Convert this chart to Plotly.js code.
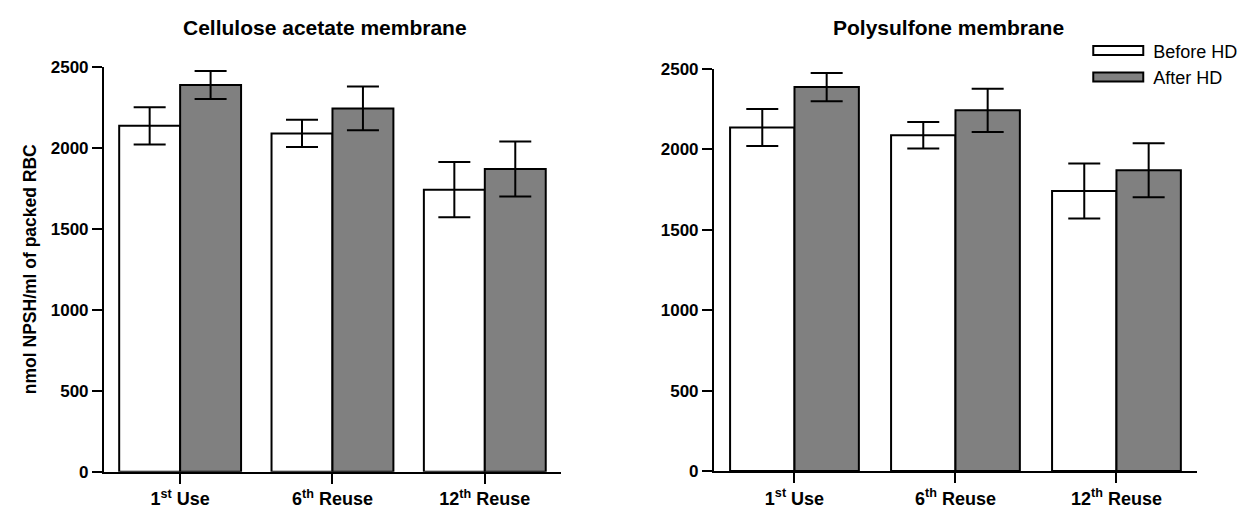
<!DOCTYPE html>
<html>
<head>
<meta charset="utf-8">
<script src="https://cdn.plot.ly/plotly-3.0.1.min.js"></script>
<style>html,body{margin:0;padding:0;background:#fff;}#chart{width:1248px;height:506px;}</style>
</head>
<body>
<div id="chart"></div>
<script>
// ---- data ----
var categories = ['1<sup>st</sup> Use', '6<sup>th</sup> Reuse', '12<sup>th</sup> Reuse'];
var seriesNames = ['Before HD', 'After HD'];

// Cellulose acetate membrane
var caBefore = [2135, 2088, 1741];
var caBeforeErr = [115, 84, 171];
var caAfter = [2387, 2242, 1868];
var caAfterErr = [87, 135, 170];

// Polysulfone membrane
var psBefore = [2137, 2088, 1741];
var psBeforeErr = [115, 83, 171];
var psAfter = [2388, 2243, 1870];
var psAfterErr = [88, 134, 168];

var yTickVals = [0, 500, 1000, 1500, 2000, 2500];
var panelTitles = ['Cellulose acetate membrane', 'Polysulfone membrane'];
var yTitle = 'nmol NPSH/ml of packed RBC';

// ---- styles ----
var FONT = '"Liberation Sans", Arial, Helvetica, sans-serif';
var fills = ['#ffffff', '#808080'];

function barTrace(name, vals, errs, idx, xa, ya, showLeg) {
  return {
    type: 'bar', name: name, x: categories, y: vals,
    xaxis: xa, yaxis: ya, showlegend: showLeg, legendgroup: name,
    marker: {color: fills[idx], line: {color: '#000', width: 2}},
    error_y: {type: 'data', array: errs, visible: true, color: '#000', thickness: 2, width: 16},
    hoverinfo: 'x+y'
  };
}

var data = [
  barTrace(seriesNames[0], caBefore, caBeforeErr, 0, 'x', 'y', false),
  barTrace(seriesNames[1], caAfter, caAfterErr, 1, 'x', 'y', false),
  barTrace(seriesNames[0], psBefore, psBeforeErr, 0, 'x2', 'y2', true),
  barTrace(seriesNames[1], psAfter, psAfterErr, 1, 'x2', 'y2', true)
];

function xAxis(domain, anchor) {
  return {
    domain: domain, anchor: anchor, type: 'category', range: [-0.5, 2.5],
    showline: true, linecolor: '#000', linewidth: 2, mirror: false,
    ticks: 'outside', ticklen: 10, tickwidth: 2, tickcolor: '#000',
    showgrid: false, zeroline: false, fixedrange: true,
    tickfont: {family: FONT, size: 18, color: '#000', weight: 'bold'}
  };
}
function yAxis(domain, anchor, title) {
  var a = {
    domain: domain, anchor: anchor, range: [0, 2500],
    tickvals: yTickVals,
    showline: true, linecolor: '#000', linewidth: 2,
    ticks: 'outside', ticklen: 10, tickwidth: 2, tickcolor: '#000',
    showgrid: false, zeroline: false, fixedrange: true,
    tickfont: {family: FONT, size: 17, color: '#000', weight: 'bold'}
  };
  if (title) a.title = {text: title, font: {family: FONT, size: 17.5, color: '#000', weight: 'bold'}, standoff: 10};
  return a;
}

var layout = {
  width: 1248, height: 506,
  margin: {l: 0, r: 0, t: 0, b: 0},
  paper_bgcolor: '#fff', plot_bgcolor: '#fff',
  barmode: 'group', bargap: 0.2, bargroupgap: 0,
  font: {family: FONT, color: '#000'},
  xaxis: xAxis([0.0833, 0.4495], 'y'),
  yaxis: yAxis([0.0678, 0.8682], 'x', yTitle),
  xaxis2: xAxis([0.5721, 0.9591], 'y2'),
  yaxis2: yAxis([0.0692, 0.8636], 'x2', null),
  showlegend: true,
  legend: {
    x: 0.868, y: 0.936, xanchor: 'left', yanchor: 'top',
    bgcolor: 'rgba(0,0,0,0)', borderwidth: 0,
    itemwidth: 60, tracegroupgap: 0,
    font: {family: FONT, size: 18, color: '#000'}
  },
  annotations: [
    {text: panelTitles[0], xref: 'paper', yref: 'paper', x: 0.2604, y: 0.9466,
     xanchor: 'center', yanchor: 'middle', showarrow: false,
     font: {family: FONT, size: 21, color: '#000', weight: 'bold'}},
    {text: panelTitles[1], xref: 'paper', yref: 'paper', x: 0.7604, y: 0.9447,
     xanchor: 'center', yanchor: 'middle', showarrow: false,
     font: {family: FONT, size: 21, color: '#000', weight: 'bold'}}
  ]
};

Plotly.newPlot('chart', data, layout, {staticPlot: true, displayModeBar: false}).then(function (gd) {
  // widen legend swatches to the long flat boxes of the reference
  var paths = gd.querySelectorAll('.legend .legendpoints path');
  paths.forEach(function (p) { p.setAttribute('d', 'M25,4.5H-25V-4.5H25Z'); });
});
</script>
</body>
</html>
